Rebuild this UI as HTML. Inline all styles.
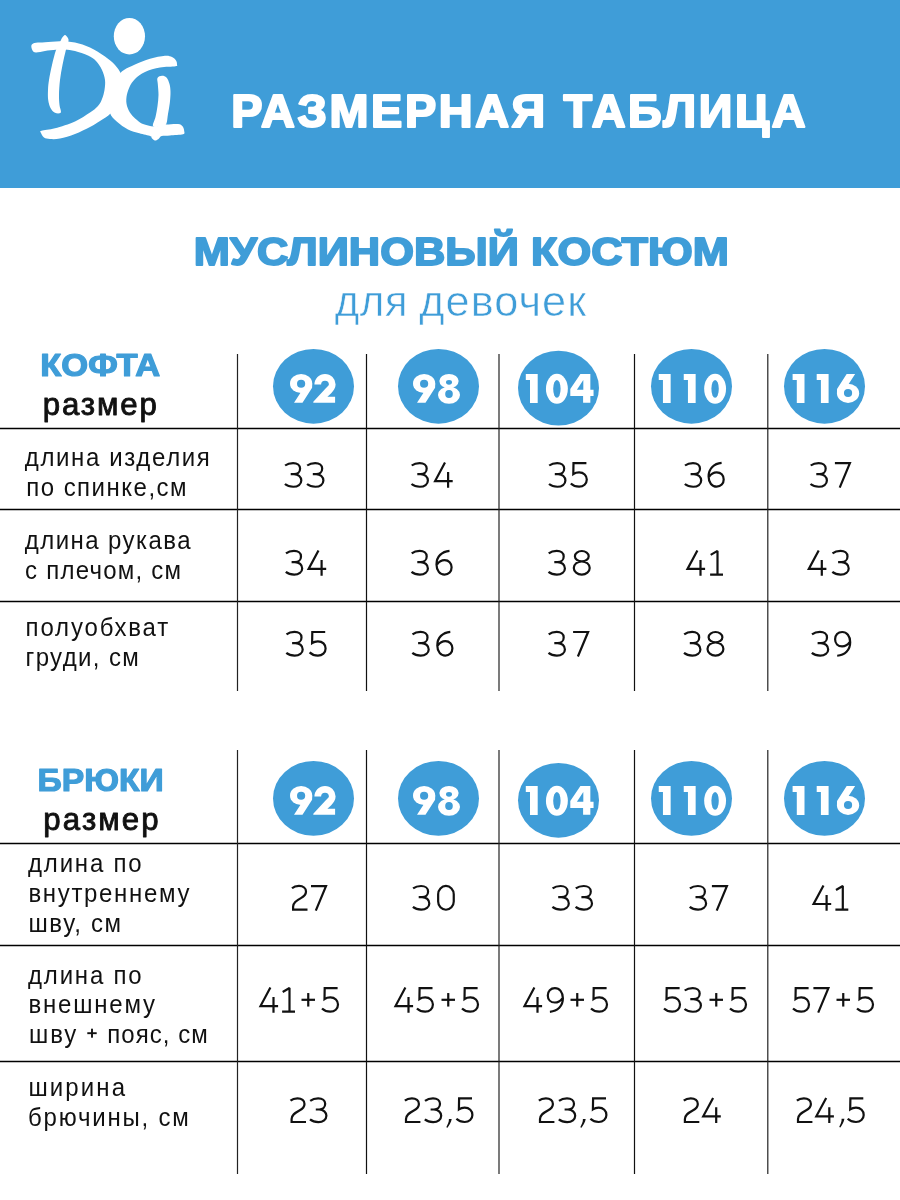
<!DOCTYPE html>
<html lang="ru"><head><meta charset="utf-8"><title>Размерная таблица</title>
<style>
html,body{margin:0;padding:0;background:#fff;}
body{width:900px;height:1200px;overflow:hidden;position:relative;font-family:"Liberation Sans",sans-serif;}
.hdr{position:absolute;left:0;top:0;width:900px;height:187.7px;background:#3f9dd8;}
svg{position:absolute;left:0;top:0;will-change:transform;}
text{font-family:"Liberation Sans",sans-serif;}
</style></head><body>
<div class="hdr"></div>
<svg width="900" height="1200" viewBox="0 0 900 1200">
<g id="logo">
<path d="M31.50,45.00 C32.08,43.72 33.75,43.25 36.00,42.80 C38.25,42.35 41.00,42.57 45.00,42.30 C49.00,42.03 55.00,41.17 60.00,41.20 C65.00,41.23 70.00,41.45 75.00,42.50 C80.00,43.55 85.00,45.17 90.00,47.50 C95.00,49.83 100.83,53.58 105.00,56.50 C109.17,59.42 112.33,62.08 115.00,65.00 C117.67,67.92 119.50,70.50 121.00,74.00 C122.50,77.50 124.17,81.67 124.00,86.00 C123.83,90.33 122.17,95.50 120.00,100.00 C117.83,104.50 114.33,109.50 111.00,113.00 C107.67,116.50 103.50,118.67 100.00,121.00 C96.50,123.33 94.17,124.83 90.00,127.00 C85.83,129.17 80.00,132.08 75.00,134.00 C70.00,135.92 64.17,137.67 60.00,138.50 C55.83,139.33 52.67,139.17 50.00,139.00 C47.33,138.83 45.50,138.50 44.00,137.50 C42.50,136.50 41.42,134.12 41.00,133.00 C40.58,131.88 39.17,131.58 41.50,130.80 C43.83,130.02 49.42,129.85 55.00,128.30 C60.58,126.75 69.17,124.13 75.00,121.50 C80.83,118.87 86.17,115.08 90.00,112.50 C93.83,109.92 96.00,108.25 98.00,106.00 C100.00,103.75 100.92,101.67 102.00,99.00 C103.08,96.33 104.00,93.17 104.50,90.00 C105.00,86.83 105.42,83.33 105.00,80.00 C104.58,76.67 103.50,73.17 102.00,70.00 C100.50,66.83 98.33,63.42 96.00,61.00 C93.67,58.58 91.50,57.17 88.00,55.50 C84.50,53.83 78.83,52.02 75.00,51.00 C71.17,49.98 68.17,49.60 65.00,49.40 C61.83,49.20 59.33,49.53 56.00,49.80 C52.67,50.07 48.33,50.55 45.00,51.00 C41.67,51.45 38.08,52.58 36.00,52.50 C33.92,52.42 33.25,51.75 32.50,50.50 C31.75,49.25 30.92,46.28 31.50,45.00Z" fill="#fff"/>
<path d="M65.00,35.00 C65.88,35.00 67.02,36.50 67.60,37.50 C68.18,38.50 68.77,39.00 68.50,41.00 C68.23,43.00 67.00,45.50 66.00,49.50 C65.00,53.50 63.50,59.92 62.50,65.00 C61.50,70.08 60.58,75.00 60.00,80.00 C59.42,85.00 59.08,90.83 59.00,95.00 C58.92,99.17 59.20,102.08 59.50,105.00 C59.80,107.92 61.55,111.20 60.80,112.50 C60.05,113.80 56.72,113.55 55.00,112.80 C53.28,112.05 51.63,110.13 50.50,108.00 C49.37,105.87 48.62,103.00 48.20,100.00 C47.78,97.00 47.87,93.33 48.00,90.00 C48.13,86.67 48.33,84.17 49.00,80.00 C49.67,75.83 50.83,70.00 52.00,65.00 C53.17,60.00 54.58,54.00 56.00,50.00 C57.42,46.00 59.45,43.08 60.50,41.00 C61.55,38.92 61.55,38.50 62.30,37.50 C63.05,36.50 64.12,35.00 65.00,35.00Z" fill="#fff"/>
<ellipse cx="129.4" cy="36.2" rx="15.6" ry="18.3" transform="rotate(0 129.4 36.2)" fill="#fff"/>
<path d="M118.00,76.00 C119.67,73.33 121.17,71.92 124.00,70.00 C126.83,68.08 130.67,66.37 135.00,64.50 C139.33,62.63 145.00,60.25 150.00,58.80 C155.00,57.35 161.33,56.10 165.00,55.80 C168.67,55.50 170.17,56.22 172.00,57.00 C173.83,57.78 175.17,59.25 176.00,60.50 C176.83,61.75 177.08,63.53 177.00,64.50 C176.92,65.47 178.33,65.78 175.50,66.30 C172.67,66.82 165.08,66.65 160.00,67.60 C154.92,68.55 149.17,70.10 145.00,72.00 C140.83,73.90 137.58,76.50 135.00,79.00 C132.42,81.50 130.92,84.00 129.50,87.00 C128.08,90.00 126.92,93.83 126.50,97.00 C126.08,100.17 126.25,103.17 127.00,106.00 C127.75,108.83 129.33,111.67 131.00,114.00 C132.67,116.33 135.00,118.33 137.00,120.00 C139.00,121.67 140.17,122.92 143.00,124.00 C145.83,125.08 150.17,126.40 154.00,126.50 C157.83,126.60 162.00,125.02 166.00,124.60 C170.00,124.18 175.25,123.72 178.00,124.00 C180.75,124.28 181.47,125.13 182.50,126.30 C183.53,127.47 184.12,129.67 184.20,131.00 C184.28,132.33 185.37,133.57 183.00,134.30 C180.63,135.03 173.55,135.12 170.00,135.40 C166.45,135.68 163.62,135.40 161.70,136.00 C159.78,136.60 159.62,138.25 158.50,139.00 C157.38,139.75 156.13,140.67 155.00,140.50 C153.87,140.33 152.45,138.72 151.70,138.00 C150.95,137.28 152.55,136.98 150.50,136.20 C148.45,135.42 143.15,134.43 139.40,133.30 C135.65,132.17 131.73,131.33 128.00,129.40 C124.27,127.47 120.00,124.43 117.00,121.70 C114.00,118.97 111.00,116.62 110.00,113.00 C109.00,109.38 110.33,104.50 111.00,100.00 C111.67,95.50 112.83,90.00 114.00,86.00 C115.17,82.00 116.33,78.67 118.00,76.00Z" fill="#fff"/>
<path d="M162.00,75.80 C163.50,75.72 165.25,76.13 166.50,77.50 C167.75,78.87 168.83,81.58 169.50,84.00 C170.17,86.42 170.45,88.83 170.50,92.00 C170.55,95.17 170.22,99.33 169.80,103.00 C169.38,106.67 168.63,110.42 168.00,114.00 C167.37,117.58 167.33,122.42 166.00,124.50 C164.67,126.58 162.17,126.25 160.00,126.50 C157.83,126.75 153.75,127.58 153.00,126.00 C152.25,124.42 154.75,120.33 155.50,117.00 C156.25,113.67 157.00,109.67 157.50,106.00 C158.00,102.33 158.45,98.67 158.50,95.00 C158.55,91.33 157.97,86.83 157.80,84.00 C157.63,81.17 156.80,79.37 157.50,78.00 C158.20,76.63 160.50,75.88 162.00,75.80Z" fill="#fff"/>
</g>
<g id="grid">
<line x1="0" y1="428.5" x2="900" y2="428.5" stroke="#000" stroke-width="1.3"/>
<line x1="0" y1="509.5" x2="900" y2="509.5" stroke="#000" stroke-width="1.3"/>
<line x1="0" y1="601.5" x2="900" y2="601.5" stroke="#000" stroke-width="1.3"/>
<line x1="0" y1="843.5" x2="900" y2="843.5" stroke="#000" stroke-width="1.3"/>
<line x1="0" y1="945.5" x2="900" y2="945.5" stroke="#000" stroke-width="1.3"/>
<line x1="0" y1="1061.5" x2="900" y2="1061.5" stroke="#000" stroke-width="1.3"/>
<line x1="237.5" y1="354" x2="237.5" y2="691" stroke="#222" stroke-width="1.2"/>
<line x1="237.5" y1="750" x2="237.5" y2="1174" stroke="#222" stroke-width="1.2"/>
<line x1="366.5" y1="354" x2="366.5" y2="691" stroke="#111" stroke-width="1.2"/>
<line x1="366.5" y1="750" x2="366.5" y2="1174" stroke="#111" stroke-width="1.2"/>
<line x1="499" y1="354" x2="499" y2="691" stroke="#222" stroke-width="1.2"/>
<line x1="499" y1="750" x2="499" y2="1174" stroke="#222" stroke-width="1.2"/>
<line x1="634.5" y1="354" x2="634.5" y2="691" stroke="#111" stroke-width="1.2"/>
<line x1="634.5" y1="750" x2="634.5" y2="1174" stroke="#111" stroke-width="1.2"/>
<line x1="767.8" y1="354" x2="767.8" y2="691" stroke="#222" stroke-width="1.2"/>
<line x1="767.8" y1="750" x2="767.8" y2="1174" stroke="#222" stroke-width="1.2"/>
</g>
<g id="circles">
<ellipse cx="313.5" cy="386.30" rx="40.5" ry="37.4" fill="#3f9dd8"/>
<ellipse cx="438.5" cy="386.30" rx="40.5" ry="37.4" fill="#3f9dd8"/>
<ellipse cx="558.5" cy="388.10" rx="40.5" ry="37.4" fill="#3f9dd8"/>
<ellipse cx="691.5" cy="386.30" rx="40.5" ry="37.4" fill="#3f9dd8"/>
<ellipse cx="824.5" cy="386.30" rx="40.5" ry="37.4" fill="#3f9dd8"/>
<ellipse cx="313.5" cy="798.40" rx="40.5" ry="37.4" fill="#3f9dd8"/>
<ellipse cx="438.5" cy="798.40" rx="40.5" ry="37.4" fill="#3f9dd8"/>
<ellipse cx="558.5" cy="800.30" rx="40.5" ry="37.4" fill="#3f9dd8"/>
<ellipse cx="691.5" cy="798.40" rx="40.5" ry="37.4" fill="#3f9dd8"/>
<ellipse cx="824.5" cy="798.40" rx="40.5" ry="37.4" fill="#3f9dd8"/>
</g>
<g id="cnum">
<ellipse cx="301.10" cy="383.50" rx="11.10" ry="9.60" fill="#ffffff"/>
<path d="M294.00,402.85 L302.50,402.85 L312.10,387.80 L312.20,383.50 L301.10,383.50 L300.50,392.70Z" fill="#ffffff"/>
<ellipse cx="301.10" cy="383.80" rx="4.10" ry="3.95" fill="#3f9dd8"/>
<path d="M314.40,384.60 A10.6,10.6 0 0 1 335.60,384.60 C335.60,388.00 333.50,391.00 331.20,393.20 L327.40,396.80 L335.10,396.80 L335.10,402.75 L313.30,402.75 L313.30,401.80 L325.80,388.20 C327.60,386.50 328.90,385.50 328.90,384.60 A3.9,3.9 0 0 0 321.10,384.60 Z" fill="#ffffff"/>
<ellipse cx="424.10" cy="383.50" rx="11.10" ry="9.60" fill="#ffffff"/>
<path d="M417.00,402.85 L425.50,402.85 L435.10,387.80 L435.20,383.50 L424.10,383.50 L423.50,392.70Z" fill="#ffffff"/>
<ellipse cx="424.10" cy="383.80" rx="4.10" ry="3.95" fill="#3f9dd8"/>
<ellipse cx="449.00" cy="381.10" rx="9.65" ry="7.20" fill="#ffffff"/>
<ellipse cx="449.00" cy="395.10" rx="11.00" ry="8.60" fill="#ffffff"/>
<ellipse cx="449.00" cy="382.35" rx="3.00" ry="2.40" fill="#3f9dd8"/>
<ellipse cx="449.00" cy="394.00" rx="3.80" ry="3.90" fill="#3f9dd8"/>
<path d="M525.80,373.95 L537.70,373.95 L537.70,402.90 L530.00,402.90 L530.00,379.95 L525.80,379.95Z" fill="#ffffff"/>
<ellipse cx="556.90" cy="388.85" rx="10.95" ry="15.00" fill="#ffffff"/>
<ellipse cx="556.90" cy="388.85" rx="3.70" ry="8.90" fill="#3f9dd8"/>
<path d="M580.40,374.00 L590.35,374.00 L590.35,389.85 L593.55,389.85 L593.55,395.90 L590.35,395.90 L590.35,402.85 L583.10,402.85 L583.10,395.90 L570.30,395.90 L570.30,389.10Z" fill="#ffffff"/>
<path d="M583.30,380.10 L583.30,389.85 L576.90,389.85Z" fill="#3f9dd8"/>
<path d="M658.75,373.95 L670.65,373.95 L670.65,402.90 L662.95,402.90 L662.95,379.95 L658.75,379.95Z" fill="#ffffff"/>
<path d="M683.75,373.95 L695.65,373.95 L695.65,402.90 L687.95,402.90 L687.95,379.95 L683.75,379.95Z" fill="#ffffff"/>
<ellipse cx="715.10" cy="388.85" rx="10.95" ry="15.00" fill="#ffffff"/>
<ellipse cx="715.10" cy="388.85" rx="3.70" ry="8.90" fill="#3f9dd8"/>
<path d="M792.60,373.95 L804.50,373.95 L804.50,402.90 L796.80,402.90 L796.80,379.95 L792.60,379.95Z" fill="#ffffff"/>
<path d="M816.70,373.95 L828.60,373.95 L828.60,402.90 L820.90,402.90 L820.90,379.95 L816.70,379.95Z" fill="#ffffff"/>
<ellipse cx="848.05" cy="393.30" rx="11.10" ry="9.60" fill="#ffffff"/>
<path d="M855.15,373.95 L846.65,373.95 L837.05,389.00 L836.95,393.30 L848.05,393.30 L848.65,384.10Z" fill="#ffffff"/>
<ellipse cx="848.05" cy="393.00" rx="4.10" ry="3.95" fill="#3f9dd8"/>
<ellipse cx="301.10" cy="795.50" rx="11.10" ry="9.60" fill="#ffffff"/>
<path d="M294.00,814.85 L302.50,814.85 L312.10,799.80 L312.20,795.50 L301.10,795.50 L300.50,804.70Z" fill="#ffffff"/>
<ellipse cx="301.10" cy="795.80" rx="4.10" ry="3.95" fill="#3f9dd8"/>
<path d="M314.40,796.60 A10.6,10.6 0 0 1 335.60,796.60 C335.60,800.00 333.50,803.00 331.20,805.20 L327.40,808.80 L335.10,808.80 L335.10,814.75 L313.30,814.75 L313.30,813.80 L325.80,800.20 C327.60,798.50 328.90,797.50 328.90,796.60 A3.9,3.9 0 0 0 321.10,796.60 Z" fill="#ffffff"/>
<ellipse cx="424.10" cy="795.50" rx="11.10" ry="9.60" fill="#ffffff"/>
<path d="M417.00,814.85 L425.50,814.85 L435.10,799.80 L435.20,795.50 L424.10,795.50 L423.50,804.70Z" fill="#ffffff"/>
<ellipse cx="424.10" cy="795.80" rx="4.10" ry="3.95" fill="#3f9dd8"/>
<ellipse cx="449.00" cy="793.10" rx="9.65" ry="7.20" fill="#ffffff"/>
<ellipse cx="449.00" cy="807.10" rx="11.00" ry="8.60" fill="#ffffff"/>
<ellipse cx="449.00" cy="794.35" rx="3.00" ry="2.40" fill="#3f9dd8"/>
<ellipse cx="449.00" cy="806.00" rx="3.80" ry="3.90" fill="#3f9dd8"/>
<path d="M525.80,785.95 L537.70,785.95 L537.70,814.90 L530.00,814.90 L530.00,791.95 L525.80,791.95Z" fill="#ffffff"/>
<ellipse cx="556.90" cy="800.85" rx="10.95" ry="15.00" fill="#ffffff"/>
<ellipse cx="556.90" cy="800.85" rx="3.70" ry="8.90" fill="#3f9dd8"/>
<path d="M580.40,786.00 L590.35,786.00 L590.35,801.85 L593.55,801.85 L593.55,807.90 L590.35,807.90 L590.35,814.85 L583.10,814.85 L583.10,807.90 L570.30,807.90 L570.30,801.10Z" fill="#ffffff"/>
<path d="M583.30,792.10 L583.30,801.85 L576.90,801.85Z" fill="#3f9dd8"/>
<path d="M658.75,785.95 L670.65,785.95 L670.65,814.90 L662.95,814.90 L662.95,791.95 L658.75,791.95Z" fill="#ffffff"/>
<path d="M683.75,785.95 L695.65,785.95 L695.65,814.90 L687.95,814.90 L687.95,791.95 L683.75,791.95Z" fill="#ffffff"/>
<ellipse cx="715.10" cy="800.85" rx="10.95" ry="15.00" fill="#ffffff"/>
<ellipse cx="715.10" cy="800.85" rx="3.70" ry="8.90" fill="#3f9dd8"/>
<path d="M792.60,785.95 L804.50,785.95 L804.50,814.90 L796.80,814.90 L796.80,791.95 L792.60,791.95Z" fill="#ffffff"/>
<path d="M816.70,785.95 L828.60,785.95 L828.60,814.90 L820.90,814.90 L820.90,791.95 L816.70,791.95Z" fill="#ffffff"/>
<ellipse cx="848.05" cy="805.30" rx="11.10" ry="9.60" fill="#ffffff"/>
<path d="M855.15,785.95 L846.65,785.95 L837.05,801.00 L836.95,805.30 L848.05,805.30 L848.65,796.10Z" fill="#ffffff"/>
<ellipse cx="848.05" cy="805.00" rx="4.10" ry="3.95" fill="#3f9dd8"/>
</g>
<g id="plus">
<rect x="87.30" y="1032.25" width="9.4" height="1.9" fill="#111111"/>
<rect x="91.05" y="1028.70" width="1.9" height="9.0" fill="#111111"/>
<rect x="301.50" y="998.70" width="13.50" height="2.2" fill="#111111"/>
<rect x="307.15" y="993.05" width="2.2" height="13.50" fill="#111111"/>
<rect x="441.50" y="998.70" width="13.50" height="2.2" fill="#111111"/>
<rect x="447.15" y="993.05" width="2.2" height="13.50" fill="#111111"/>
<rect x="570.50" y="998.70" width="13.50" height="2.2" fill="#111111"/>
<rect x="576.15" y="993.05" width="2.2" height="13.50" fill="#111111"/>
<rect x="709.50" y="998.70" width="13.50" height="2.2" fill="#111111"/>
<rect x="715.15" y="993.05" width="2.2" height="13.50" fill="#111111"/>
<rect x="836.50" y="998.70" width="13.50" height="2.2" fill="#111111"/>
<rect x="842.15" y="993.05" width="2.2" height="13.50" fill="#111111"/>
</g>
<g id="nums">
<path d="M0.7,3.5 C2.8,1.9 5.6,1.05 8.7,1.05 C12.9,1.05 15.7,3.3 15.7,6.5 C15.7,9.9 13.2,12.2 9.6,12.2 L6.3,12.2 M9.6,12.2 C13.9,12.2 16.9,14.9 16.9,18.5 C16.9,22.2 13.5,24.75 8.9,24.75 C5.6,24.75 2.6,23.8 0.5,22.0" transform="translate(284.40,462.00) scale(1,1.0000)" fill="none" stroke="#111111" stroke-width="2.2" stroke-linejoin="miter" stroke-miterlimit="6"/>
<path d="M0.7,3.5 C2.8,1.9 5.6,1.05 8.7,1.05 C12.9,1.05 15.7,3.3 15.7,6.5 C15.7,9.9 13.2,12.2 9.6,12.2 L6.3,12.2 M9.6,12.2 C13.9,12.2 16.9,14.9 16.9,18.5 C16.9,22.2 13.5,24.75 8.9,24.75 C5.6,24.75 2.6,23.8 0.5,22.0" transform="translate(306.50,462.00) scale(1,1.0000)" fill="none" stroke="#111111" stroke-width="2.2" stroke-linejoin="miter" stroke-miterlimit="6"/>
<path d="M0.7,3.5 C2.8,1.9 5.6,1.05 8.7,1.05 C12.9,1.05 15.7,3.3 15.7,6.5 C15.7,9.9 13.2,12.2 9.6,12.2 L6.3,12.2 M9.6,12.2 C13.9,12.2 16.9,14.9 16.9,18.5 C16.9,22.2 13.5,24.75 8.9,24.75 C5.6,24.75 2.6,23.8 0.5,22.0" transform="translate(411.00,462.00) scale(1,1.0000)" fill="none" stroke="#111111" stroke-width="2.2" stroke-linejoin="miter" stroke-miterlimit="6"/>
<path d="M10.9,0.6 L1.0,19.05 L18.6,19.05 M14.0,10.0 L14.0,25.8" transform="translate(434.10,462.00) scale(1,1.0000)" fill="none" stroke="#111111" stroke-width="2.2" stroke-linejoin="miter" stroke-miterlimit="6"/>
<path d="M0.7,3.5 C2.8,1.9 5.6,1.05 8.7,1.05 C12.9,1.05 15.7,3.3 15.7,6.5 C15.7,9.9 13.2,12.2 9.6,12.2 L6.3,12.2 M9.6,12.2 C13.9,12.2 16.9,14.9 16.9,18.5 C16.9,22.2 13.5,24.75 8.9,24.75 C5.6,24.75 2.6,23.8 0.5,22.0" transform="translate(548.50,462.00) scale(1,1.0000)" fill="none" stroke="#111111" stroke-width="2.2" stroke-linejoin="miter" stroke-miterlimit="6"/>
<path d="M16.1,1.1 L3.2,1.1 L3.0,12.1 C4.7,10.9 6.7,10.4 8.8,10.4 C13.5,10.4 16.5,13.6 16.5,17.6 C16.5,21.7 13.2,24.7 8.8,24.7 C5.5,24.7 2.6,23.5 0.5,21.5" transform="translate(570.30,462.00) scale(1,1.0000)" fill="none" stroke="#111111" stroke-width="2.2" stroke-linejoin="miter" stroke-miterlimit="6"/>
<path d="M0.7,3.5 C2.8,1.9 5.6,1.05 8.7,1.05 C12.9,1.05 15.7,3.3 15.7,6.5 C15.7,9.9 13.2,12.2 9.6,12.2 L6.3,12.2 M9.6,12.2 C13.9,12.2 16.9,14.9 16.9,18.5 C16.9,22.2 13.5,24.75 8.9,24.75 C5.6,24.75 2.6,23.8 0.5,22.0" transform="translate(684.30,462.00) scale(1,1.0000)" fill="none" stroke="#111111" stroke-width="2.2" stroke-linejoin="miter" stroke-miterlimit="6"/>
<path d="M14.1,0.95 C6.5,1.6 1.1,6.5 1.1,14.5 C1.1,20.8 4.6,24.7 9.1,24.7 C13.4,24.7 16.2,21.5 16.2,17.4 C16.2,13.3 13.4,10.3 9.2,10.3 C6.2,10.3 3.5,11.9 1.7,14.5" transform="translate(707.50,462.00) scale(1,1.0000)" fill="none" stroke="#111111" stroke-width="2.2" stroke-linejoin="miter" stroke-miterlimit="6"/>
<path d="M0.7,3.5 C2.8,1.9 5.6,1.05 8.7,1.05 C12.9,1.05 15.7,3.3 15.7,6.5 C15.7,9.9 13.2,12.2 9.6,12.2 L6.3,12.2 M9.6,12.2 C13.9,12.2 16.9,14.9 16.9,18.5 C16.9,22.2 13.5,24.75 8.9,24.75 C5.6,24.75 2.6,23.8 0.5,22.0" transform="translate(810.00,462.00) scale(1,1.0000)" fill="none" stroke="#111111" stroke-width="2.2" stroke-linejoin="miter" stroke-miterlimit="6"/>
<path d="M0,1.1 L15.0,1.1 L4.8,25.6" transform="translate(834.90,462.00) scale(1,1.0000)" fill="none" stroke="#111111" stroke-width="2.2" stroke-linejoin="miter" stroke-miterlimit="6"/>
<path d="M0.7,3.5 C2.8,1.9 5.6,1.05 8.7,1.05 C12.9,1.05 15.7,3.3 15.7,6.5 C15.7,9.9 13.2,12.2 9.6,12.2 L6.3,12.2 M9.6,12.2 C13.9,12.2 16.9,14.9 16.9,18.5 C16.9,22.2 13.5,24.75 8.9,24.75 C5.6,24.75 2.6,23.8 0.5,22.0" transform="translate(285.30,549.90) scale(1,1.0000)" fill="none" stroke="#111111" stroke-width="2.2" stroke-linejoin="miter" stroke-miterlimit="6"/>
<path d="M10.9,0.6 L1.0,19.05 L18.6,19.05 M14.0,10.0 L14.0,25.8" transform="translate(307.60,549.90) scale(1,1.0000)" fill="none" stroke="#111111" stroke-width="2.2" stroke-linejoin="miter" stroke-miterlimit="6"/>
<path d="M0.7,3.5 C2.8,1.9 5.6,1.05 8.7,1.05 C12.9,1.05 15.7,3.3 15.7,6.5 C15.7,9.9 13.2,12.2 9.6,12.2 L6.3,12.2 M9.6,12.2 C13.9,12.2 16.9,14.9 16.9,18.5 C16.9,22.2 13.5,24.75 8.9,24.75 C5.6,24.75 2.6,23.8 0.5,22.0" transform="translate(411.00,549.90) scale(1,1.0000)" fill="none" stroke="#111111" stroke-width="2.2" stroke-linejoin="miter" stroke-miterlimit="6"/>
<path d="M14.1,0.95 C6.5,1.6 1.1,6.5 1.1,14.5 C1.1,20.8 4.6,24.7 9.1,24.7 C13.4,24.7 16.2,21.5 16.2,17.4 C16.2,13.3 13.4,10.3 9.2,10.3 C6.2,10.3 3.5,11.9 1.7,14.5" transform="translate(435.40,549.90) scale(1,1.0000)" fill="none" stroke="#111111" stroke-width="2.2" stroke-linejoin="miter" stroke-miterlimit="6"/>
<path d="M0.7,3.5 C2.8,1.9 5.6,1.05 8.7,1.05 C12.9,1.05 15.7,3.3 15.7,6.5 C15.7,9.9 13.2,12.2 9.6,12.2 L6.3,12.2 M9.6,12.2 C13.9,12.2 16.9,14.9 16.9,18.5 C16.9,22.2 13.5,24.75 8.9,24.75 C5.6,24.75 2.6,23.8 0.5,22.0" transform="translate(548.00,549.90) scale(1,1.0000)" fill="none" stroke="#111111" stroke-width="2.2" stroke-linejoin="miter" stroke-miterlimit="6"/>
<path d="M9.1,1.1 A6.9,5.15 0 1 1 9.1,11.4 A6.9,5.15 0 1 1 9.1,1.1 Z M9.05,11.4 A7.95,6.65 0 1 1 9.05,24.7 A7.95,6.65 0 1 1 9.05,11.4 Z" transform="translate(572.70,549.90) scale(1,1.0000)" fill="none" stroke="#111111" stroke-width="2.2" stroke-linejoin="miter" stroke-miterlimit="6"/>
<path d="M10.9,0.6 L1.0,19.05 L18.6,19.05 M14.0,10.0 L14.0,25.8" transform="translate(686.50,549.90) scale(1,1.0000)" fill="none" stroke="#111111" stroke-width="2.2" stroke-linejoin="miter" stroke-miterlimit="6"/>
<path d="M0.6,5.0 L7.4,1.0 L7.4,24.7 M0,24.7 L12.9,24.7" transform="translate(710.10,549.90) scale(1,1.0000)" fill="none" stroke="#111111" stroke-width="2.2" stroke-linejoin="miter" stroke-miterlimit="1.5"/>
<path d="M10.9,0.6 L1.0,19.05 L18.6,19.05 M14.0,10.0 L14.0,25.8" transform="translate(807.80,549.90) scale(1,1.0000)" fill="none" stroke="#111111" stroke-width="2.2" stroke-linejoin="miter" stroke-miterlimit="6"/>
<path d="M0.7,3.5 C2.8,1.9 5.6,1.05 8.7,1.05 C12.9,1.05 15.7,3.3 15.7,6.5 C15.7,9.9 13.2,12.2 9.6,12.2 L6.3,12.2 M9.6,12.2 C13.9,12.2 16.9,14.9 16.9,18.5 C16.9,22.2 13.5,24.75 8.9,24.75 C5.6,24.75 2.6,23.8 0.5,22.0" transform="translate(831.80,549.90) scale(1,1.0000)" fill="none" stroke="#111111" stroke-width="2.2" stroke-linejoin="miter" stroke-miterlimit="6"/>
<path d="M0.7,3.5 C2.8,1.9 5.6,1.05 8.7,1.05 C12.9,1.05 15.7,3.3 15.7,6.5 C15.7,9.9 13.2,12.2 9.6,12.2 L6.3,12.2 M9.6,12.2 C13.9,12.2 16.9,14.9 16.9,18.5 C16.9,22.2 13.5,24.75 8.9,24.75 C5.6,24.75 2.6,23.8 0.5,22.0" transform="translate(285.80,630.90) scale(1,1.0000)" fill="none" stroke="#111111" stroke-width="2.2" stroke-linejoin="miter" stroke-miterlimit="6"/>
<path d="M16.1,1.1 L3.2,1.1 L3.0,12.1 C4.7,10.9 6.7,10.4 8.8,10.4 C13.5,10.4 16.5,13.6 16.5,17.6 C16.5,21.7 13.2,24.7 8.8,24.7 C5.5,24.7 2.6,23.5 0.5,21.5" transform="translate(309.10,630.90) scale(1,1.0000)" fill="none" stroke="#111111" stroke-width="2.2" stroke-linejoin="miter" stroke-miterlimit="6"/>
<path d="M0.7,3.5 C2.8,1.9 5.6,1.05 8.7,1.05 C12.9,1.05 15.7,3.3 15.7,6.5 C15.7,9.9 13.2,12.2 9.6,12.2 L6.3,12.2 M9.6,12.2 C13.9,12.2 16.9,14.9 16.9,18.5 C16.9,22.2 13.5,24.75 8.9,24.75 C5.6,24.75 2.6,23.8 0.5,22.0" transform="translate(411.80,630.90) scale(1,1.0000)" fill="none" stroke="#111111" stroke-width="2.2" stroke-linejoin="miter" stroke-miterlimit="6"/>
<path d="M14.1,0.95 C6.5,1.6 1.1,6.5 1.1,14.5 C1.1,20.8 4.6,24.7 9.1,24.7 C13.4,24.7 16.2,21.5 16.2,17.4 C16.2,13.3 13.4,10.3 9.2,10.3 C6.2,10.3 3.5,11.9 1.7,14.5" transform="translate(436.20,630.90) scale(1,1.0000)" fill="none" stroke="#111111" stroke-width="2.2" stroke-linejoin="miter" stroke-miterlimit="6"/>
<path d="M0.7,3.5 C2.8,1.9 5.6,1.05 8.7,1.05 C12.9,1.05 15.7,3.3 15.7,6.5 C15.7,9.9 13.2,12.2 9.6,12.2 L6.3,12.2 M9.6,12.2 C13.9,12.2 16.9,14.9 16.9,18.5 C16.9,22.2 13.5,24.75 8.9,24.75 C5.6,24.75 2.6,23.8 0.5,22.0" transform="translate(548.00,630.90) scale(1,1.0000)" fill="none" stroke="#111111" stroke-width="2.2" stroke-linejoin="miter" stroke-miterlimit="6"/>
<path d="M0,1.1 L15.0,1.1 L4.8,25.6" transform="translate(573.10,630.90) scale(1,1.0000)" fill="none" stroke="#111111" stroke-width="2.2" stroke-linejoin="miter" stroke-miterlimit="6"/>
<path d="M0.7,3.5 C2.8,1.9 5.6,1.05 8.7,1.05 C12.9,1.05 15.7,3.3 15.7,6.5 C15.7,9.9 13.2,12.2 9.6,12.2 L6.3,12.2 M9.6,12.2 C13.9,12.2 16.9,14.9 16.9,18.5 C16.9,22.2 13.5,24.75 8.9,24.75 C5.6,24.75 2.6,23.8 0.5,22.0" transform="translate(683.50,630.90) scale(1,1.0000)" fill="none" stroke="#111111" stroke-width="2.2" stroke-linejoin="miter" stroke-miterlimit="6"/>
<path d="M9.1,1.1 A6.9,5.15 0 1 1 9.1,11.4 A6.9,5.15 0 1 1 9.1,1.1 Z M9.05,11.4 A7.95,6.65 0 1 1 9.05,24.7 A7.95,6.65 0 1 1 9.05,11.4 Z" transform="translate(706.40,630.90) scale(1,1.0000)" fill="none" stroke="#111111" stroke-width="2.2" stroke-linejoin="miter" stroke-miterlimit="6"/>
<path d="M0.7,3.5 C2.8,1.9 5.6,1.05 8.7,1.05 C12.9,1.05 15.7,3.3 15.7,6.5 C15.7,9.9 13.2,12.2 9.6,12.2 L6.3,12.2 M9.6,12.2 C13.9,12.2 16.9,14.9 16.9,18.5 C16.9,22.2 13.5,24.75 8.9,24.75 C5.6,24.75 2.6,23.8 0.5,22.0" transform="translate(811.30,630.90) scale(1,1.0000)" fill="none" stroke="#111111" stroke-width="2.2" stroke-linejoin="miter" stroke-miterlimit="6"/>
<path d="M3.10,24.85 C10.70,24.20 16.10,19.30 16.10,11.30 C16.10,5.00 12.60,1.10 8.10,1.10 C3.80,1.10 1.00,4.30 1.00,8.40 C1.00,12.50 3.80,15.50 8.00,15.50 C11.00,15.50 13.70,13.90 15.50,11.30" transform="translate(834.10,630.90) scale(1,1.0000)" fill="none" stroke="#111111" stroke-width="2.2" stroke-linejoin="miter" stroke-miterlimit="6"/>
<path d="M0.6,3.3 C2.4,1.7 5.0,1.0 7.6,1.0 C11.9,1.0 14.6,3.4 14.6,6.6 C14.6,9.8 12.5,11.6 9.5,13.2 C4.7,15.8 1.7,17.8 1.7,21.8 L1.7,24.7 L16.1,24.7" transform="translate(291.40,884.95) scale(1,1.0000)" fill="none" stroke="#111111" stroke-width="2.2" stroke-linejoin="miter" stroke-miterlimit="6"/>
<path d="M0,1.1 L15.0,1.1 L4.8,25.6" transform="translate(311.00,884.95) scale(1,1.0000)" fill="none" stroke="#111111" stroke-width="2.2" stroke-linejoin="miter" stroke-miterlimit="6"/>
<path d="M0.7,3.5 C2.8,1.9 5.6,1.05 8.7,1.05 C12.9,1.05 15.7,3.3 15.7,6.5 C15.7,9.9 13.2,12.2 9.6,12.2 L6.3,12.2 M9.6,12.2 C13.9,12.2 16.9,14.9 16.9,18.5 C16.9,22.2 13.5,24.75 8.9,24.75 C5.6,24.75 2.6,23.8 0.5,22.0" transform="translate(412.40,884.95) scale(1,1.0000)" fill="none" stroke="#111111" stroke-width="2.2" stroke-linejoin="miter" stroke-miterlimit="6"/>
<path d="M1.15,9.3 A7.8,8.3 0 0 1 16.75,9.3 L16.75,16.5 A7.8,8.3 0 0 1 1.15,16.5 Z" transform="translate(437.00,884.95) scale(1,1.0000)" fill="none" stroke="#111111" stroke-width="2.2" stroke-linejoin="miter" stroke-miterlimit="6"/>
<path d="M0.7,3.5 C2.8,1.9 5.6,1.05 8.7,1.05 C12.9,1.05 15.7,3.3 15.7,6.5 C15.7,9.9 13.2,12.2 9.6,12.2 L6.3,12.2 M9.6,12.2 C13.9,12.2 16.9,14.9 16.9,18.5 C16.9,22.2 13.5,24.75 8.9,24.75 C5.6,24.75 2.6,23.8 0.5,22.0" transform="translate(551.90,884.95) scale(1,1.0000)" fill="none" stroke="#111111" stroke-width="2.2" stroke-linejoin="miter" stroke-miterlimit="6"/>
<path d="M0.7,3.5 C2.8,1.9 5.6,1.05 8.7,1.05 C12.9,1.05 15.7,3.3 15.7,6.5 C15.7,9.9 13.2,12.2 9.6,12.2 L6.3,12.2 M9.6,12.2 C13.9,12.2 16.9,14.9 16.9,18.5 C16.9,22.2 13.5,24.75 8.9,24.75 C5.6,24.75 2.6,23.8 0.5,22.0" transform="translate(575.10,884.95) scale(1,1.0000)" fill="none" stroke="#111111" stroke-width="2.2" stroke-linejoin="miter" stroke-miterlimit="6"/>
<path d="M0.7,3.5 C2.8,1.9 5.6,1.05 8.7,1.05 C12.9,1.05 15.7,3.3 15.7,6.5 C15.7,9.9 13.2,12.2 9.6,12.2 L6.3,12.2 M9.6,12.2 C13.9,12.2 16.9,14.9 16.9,18.5 C16.9,22.2 13.5,24.75 8.9,24.75 C5.6,24.75 2.6,23.8 0.5,22.0" transform="translate(689.20,884.95) scale(1,1.0000)" fill="none" stroke="#111111" stroke-width="2.2" stroke-linejoin="miter" stroke-miterlimit="6"/>
<path d="M0,1.1 L15.0,1.1 L4.8,25.6" transform="translate(711.90,884.95) scale(1,1.0000)" fill="none" stroke="#111111" stroke-width="2.2" stroke-linejoin="miter" stroke-miterlimit="6"/>
<path d="M10.9,0.6 L1.0,19.05 L18.6,19.05 M14.0,10.0 L14.0,25.8" transform="translate(812.60,884.95) scale(1,1.0000)" fill="none" stroke="#111111" stroke-width="2.2" stroke-linejoin="miter" stroke-miterlimit="6"/>
<path d="M0.6,5.0 L7.4,1.0 L7.4,24.7 M0,24.7 L12.9,24.7" transform="translate(835.40,884.95) scale(1,1.0000)" fill="none" stroke="#111111" stroke-width="2.2" stroke-linejoin="miter" stroke-miterlimit="1.5"/>
<path d="M0.6,3.3 C2.4,1.7 5.0,1.0 7.6,1.0 C11.9,1.0 14.6,3.4 14.6,6.6 C14.6,9.8 12.5,11.6 9.5,13.2 C4.7,15.8 1.7,17.8 1.7,21.8 L1.7,24.7 L16.1,24.7" transform="translate(289.90,1097.30) scale(1,1.0000)" fill="none" stroke="#111111" stroke-width="2.2" stroke-linejoin="miter" stroke-miterlimit="6"/>
<path d="M0.7,3.5 C2.8,1.9 5.6,1.05 8.7,1.05 C12.9,1.05 15.7,3.3 15.7,6.5 C15.7,9.9 13.2,12.2 9.6,12.2 L6.3,12.2 M9.6,12.2 C13.9,12.2 16.9,14.9 16.9,18.5 C16.9,22.2 13.5,24.75 8.9,24.75 C5.6,24.75 2.6,23.8 0.5,22.0" transform="translate(309.50,1097.30) scale(1,1.0000)" fill="none" stroke="#111111" stroke-width="2.2" stroke-linejoin="miter" stroke-miterlimit="6"/>
<path d="M0.6,3.3 C2.4,1.7 5.0,1.0 7.6,1.0 C11.9,1.0 14.6,3.4 14.6,6.6 C14.6,9.8 12.5,11.6 9.5,13.2 C4.7,15.8 1.7,17.8 1.7,21.8 L1.7,24.7 L16.1,24.7" transform="translate(683.20,1097.30) scale(1,1.0000)" fill="none" stroke="#111111" stroke-width="2.2" stroke-linejoin="miter" stroke-miterlimit="6"/>
<path d="M10.9,0.6 L1.0,19.05 L18.6,19.05 M14.0,10.0 L14.0,25.8" transform="translate(702.20,1097.30) scale(1,1.0000)" fill="none" stroke="#111111" stroke-width="2.2" stroke-linejoin="miter" stroke-miterlimit="6"/>
<path d="M10.9,0.6 L1.0,19.05 L18.6,19.05 M14.0,10.0 L14.0,25.8" transform="translate(259.50,987.00) scale(1,1.0000)" fill="none" stroke="#111111" stroke-width="2.2" stroke-linejoin="miter" stroke-miterlimit="6"/>
<path d="M0.6,5.0 L7.4,1.0 L7.4,24.7 M0,24.7 L12.9,24.7" transform="translate(282.10,987.00) scale(1,1.0000)" fill="none" stroke="#111111" stroke-width="2.2" stroke-linejoin="miter" stroke-miterlimit="1.5"/>
<path d="M16.1,1.1 L3.2,1.1 L3.0,12.1 C4.7,10.9 6.7,10.4 8.8,10.4 C13.5,10.4 16.5,13.6 16.5,17.6 C16.5,21.7 13.2,24.7 8.8,24.7 C5.5,24.7 2.6,23.5 0.5,21.5" transform="translate(321.50,987.00) scale(1,1.0000)" fill="none" stroke="#111111" stroke-width="2.2" stroke-linejoin="miter" stroke-miterlimit="6"/>
<path d="M10.9,0.6 L1.0,19.05 L18.6,19.05 M14.0,10.0 L14.0,25.8" transform="translate(394.50,987.00) scale(1,1.0000)" fill="none" stroke="#111111" stroke-width="2.2" stroke-linejoin="miter" stroke-miterlimit="6"/>
<path d="M16.1,1.1 L3.2,1.1 L3.0,12.1 C4.7,10.9 6.7,10.4 8.8,10.4 C13.5,10.4 16.5,13.6 16.5,17.6 C16.5,21.7 13.2,24.7 8.8,24.7 C5.5,24.7 2.6,23.5 0.5,21.5" transform="translate(416.40,987.00) scale(1,1.0000)" fill="none" stroke="#111111" stroke-width="2.2" stroke-linejoin="miter" stroke-miterlimit="6"/>
<path d="M16.1,1.1 L3.2,1.1 L3.0,12.1 C4.7,10.9 6.7,10.4 8.8,10.4 C13.5,10.4 16.5,13.6 16.5,17.6 C16.5,21.7 13.2,24.7 8.8,24.7 C5.5,24.7 2.6,23.5 0.5,21.5" transform="translate(461.50,987.00) scale(1,1.0000)" fill="none" stroke="#111111" stroke-width="2.2" stroke-linejoin="miter" stroke-miterlimit="6"/>
<path d="M10.9,0.6 L1.0,19.05 L18.6,19.05 M14.0,10.0 L14.0,25.8" transform="translate(523.50,987.00) scale(1,1.0000)" fill="none" stroke="#111111" stroke-width="2.2" stroke-linejoin="miter" stroke-miterlimit="6"/>
<path d="M3.10,24.85 C10.70,24.20 16.10,19.30 16.10,11.30 C16.10,5.00 12.60,1.10 8.10,1.10 C3.80,1.10 1.00,4.30 1.00,8.40 C1.00,12.50 3.80,15.50 8.00,15.50 C11.00,15.50 13.70,13.90 15.50,11.30" transform="translate(546.80,987.00) scale(1,1.0000)" fill="none" stroke="#111111" stroke-width="2.2" stroke-linejoin="miter" stroke-miterlimit="6"/>
<path d="M16.1,1.1 L3.2,1.1 L3.0,12.1 C4.7,10.9 6.7,10.4 8.8,10.4 C13.5,10.4 16.5,13.6 16.5,17.6 C16.5,21.7 13.2,24.7 8.8,24.7 C5.5,24.7 2.6,23.5 0.5,21.5" transform="translate(590.50,987.00) scale(1,1.0000)" fill="none" stroke="#111111" stroke-width="2.2" stroke-linejoin="miter" stroke-miterlimit="6"/>
<path d="M16.1,1.1 L3.2,1.1 L3.0,12.1 C4.7,10.9 6.7,10.4 8.8,10.4 C13.5,10.4 16.5,13.6 16.5,17.6 C16.5,21.7 13.2,24.7 8.8,24.7 C5.5,24.7 2.6,23.5 0.5,21.5" transform="translate(663.50,987.00) scale(1,1.0000)" fill="none" stroke="#111111" stroke-width="2.2" stroke-linejoin="miter" stroke-miterlimit="6"/>
<path d="M0.7,3.5 C2.8,1.9 5.6,1.05 8.7,1.05 C12.9,1.05 15.7,3.3 15.7,6.5 C15.7,9.9 13.2,12.2 9.6,12.2 L6.3,12.2 M9.6,12.2 C13.9,12.2 16.9,14.9 16.9,18.5 C16.9,22.2 13.5,24.75 8.9,24.75 C5.6,24.75 2.6,23.8 0.5,22.0" transform="translate(684.00,987.00) scale(1,1.0000)" fill="none" stroke="#111111" stroke-width="2.2" stroke-linejoin="miter" stroke-miterlimit="6"/>
<path d="M16.1,1.1 L3.2,1.1 L3.0,12.1 C4.7,10.9 6.7,10.4 8.8,10.4 C13.5,10.4 16.5,13.6 16.5,17.6 C16.5,21.7 13.2,24.7 8.8,24.7 C5.5,24.7 2.6,23.5 0.5,21.5" transform="translate(729.50,987.00) scale(1,1.0000)" fill="none" stroke="#111111" stroke-width="2.2" stroke-linejoin="miter" stroke-miterlimit="6"/>
<path d="M16.1,1.1 L3.2,1.1 L3.0,12.1 C4.7,10.9 6.7,10.4 8.8,10.4 C13.5,10.4 16.5,13.6 16.5,17.6 C16.5,21.7 13.2,24.7 8.8,24.7 C5.5,24.7 2.6,23.5 0.5,21.5" transform="translate(792.50,987.00) scale(1,1.0000)" fill="none" stroke="#111111" stroke-width="2.2" stroke-linejoin="miter" stroke-miterlimit="6"/>
<path d="M0,1.1 L15.0,1.1 L4.8,25.6" transform="translate(813.40,987.00) scale(1,1.0000)" fill="none" stroke="#111111" stroke-width="2.2" stroke-linejoin="miter" stroke-miterlimit="6"/>
<path d="M16.1,1.1 L3.2,1.1 L3.0,12.1 C4.7,10.9 6.7,10.4 8.8,10.4 C13.5,10.4 16.5,13.6 16.5,17.6 C16.5,21.7 13.2,24.7 8.8,24.7 C5.5,24.7 2.6,23.5 0.5,21.5" transform="translate(856.50,987.00) scale(1,1.0000)" fill="none" stroke="#111111" stroke-width="2.2" stroke-linejoin="miter" stroke-miterlimit="6"/>
<path d="M0.6,3.3 C2.4,1.7 5.0,1.0 7.6,1.0 C11.9,1.0 14.6,3.4 14.6,6.6 C14.6,9.8 12.5,11.6 9.5,13.2 C4.7,15.8 1.7,17.8 1.7,21.8 L1.7,24.7 L16.1,24.7" transform="translate(404.30,1097.30) scale(1,1.0000)" fill="none" stroke="#111111" stroke-width="2.2" stroke-linejoin="miter" stroke-miterlimit="6"/>
<path d="M0.7,3.5 C2.8,1.9 5.6,1.05 8.7,1.05 C12.9,1.05 15.7,3.3 15.7,6.5 C15.7,9.9 13.2,12.2 9.6,12.2 L6.3,12.2 M9.6,12.2 C13.9,12.2 16.9,14.9 16.9,18.5 C16.9,22.2 13.5,24.75 8.9,24.75 C5.6,24.75 2.6,23.8 0.5,22.0" transform="translate(424.30,1097.30) scale(1,1.0000)" fill="none" stroke="#111111" stroke-width="2.2" stroke-linejoin="miter" stroke-miterlimit="6"/>
<path d="M16.1,1.1 L3.2,1.1 L3.0,12.1 C4.7,10.9 6.7,10.4 8.8,10.4 C13.5,10.4 16.5,13.6 16.5,17.6 C16.5,21.7 13.2,24.7 8.8,24.7 C5.5,24.7 2.6,23.5 0.5,21.5" transform="translate(455.90,1097.30) scale(1,1.0000)" fill="none" stroke="#111111" stroke-width="2.2" stroke-linejoin="miter" stroke-miterlimit="6"/>
<path d="M448.90,1118.90 L451.70,1118.90 C451.50,1121.90 448.80,1125.50 447.50,1127.70 L446.30,1127.20 C447.10,1125.00 449.30,1121.90 448.90,1118.90 Z" fill="#111111"/>
<path d="M0.6,3.3 C2.4,1.7 5.0,1.0 7.6,1.0 C11.9,1.0 14.6,3.4 14.6,6.6 C14.6,9.8 12.5,11.6 9.5,13.2 C4.7,15.8 1.7,17.8 1.7,21.8 L1.7,24.7 L16.1,24.7" transform="translate(538.30,1097.30) scale(1,1.0000)" fill="none" stroke="#111111" stroke-width="2.2" stroke-linejoin="miter" stroke-miterlimit="6"/>
<path d="M0.7,3.5 C2.8,1.9 5.6,1.05 8.7,1.05 C12.9,1.05 15.7,3.3 15.7,6.5 C15.7,9.9 13.2,12.2 9.6,12.2 L6.3,12.2 M9.6,12.2 C13.9,12.2 16.9,14.9 16.9,18.5 C16.9,22.2 13.5,24.75 8.9,24.75 C5.6,24.75 2.6,23.8 0.5,22.0" transform="translate(558.30,1097.30) scale(1,1.0000)" fill="none" stroke="#111111" stroke-width="2.2" stroke-linejoin="miter" stroke-miterlimit="6"/>
<path d="M16.1,1.1 L3.2,1.1 L3.0,12.1 C4.7,10.9 6.7,10.4 8.8,10.4 C13.5,10.4 16.5,13.6 16.5,17.6 C16.5,21.7 13.2,24.7 8.8,24.7 C5.5,24.7 2.6,23.5 0.5,21.5" transform="translate(589.90,1097.30) scale(1,1.0000)" fill="none" stroke="#111111" stroke-width="2.2" stroke-linejoin="miter" stroke-miterlimit="6"/>
<path d="M582.90,1118.90 L585.70,1118.90 C585.50,1121.90 582.80,1125.50 581.50,1127.70 L580.30,1127.20 C581.10,1125.00 583.30,1121.90 582.90,1118.90 Z" fill="#111111"/>
<path d="M0.6,3.3 C2.4,1.7 5.0,1.0 7.6,1.0 C11.9,1.0 14.6,3.4 14.6,6.6 C14.6,9.8 12.5,11.6 9.5,13.2 C4.7,15.8 1.7,17.8 1.7,21.8 L1.7,24.7 L16.1,24.7" transform="translate(796.30,1097.30) scale(1,1.0000)" fill="none" stroke="#111111" stroke-width="2.2" stroke-linejoin="miter" stroke-miterlimit="6"/>
<path d="M10.9,0.6 L1.0,19.05 L18.6,19.05 M14.0,10.0 L14.0,25.8" transform="translate(815.30,1097.30) scale(1,1.0000)" fill="none" stroke="#111111" stroke-width="2.2" stroke-linejoin="miter" stroke-miterlimit="6"/>
<path d="M16.1,1.1 L3.2,1.1 L3.0,12.1 C4.7,10.9 6.7,10.4 8.8,10.4 C13.5,10.4 16.5,13.6 16.5,17.6 C16.5,21.7 13.2,24.7 8.8,24.7 C5.5,24.7 2.6,23.5 0.5,21.5" transform="translate(847.20,1097.30) scale(1,1.0000)" fill="none" stroke="#111111" stroke-width="2.2" stroke-linejoin="miter" stroke-miterlimit="6"/>
<path d="M841.60,1118.70 L844.40,1118.70 C844.20,1121.70 841.70,1125.40 840.40,1127.60 L839.20,1127.10 C840.00,1124.90 842.00,1121.70 841.60,1118.70 Z" fill="#111111"/>
</g>
<g id="texts">
<text x="231.37" y="126.70" font-size="46.80" font-weight="bold" fill="#ffffff" textLength="574.16" lengthAdjust="spacing" stroke="#ffffff" stroke-width="2.2" stroke-linejoin="round">РАЗМЕРНАЯ ТАБЛИЦА</text>
<text x="193.81" y="264.70" font-size="38.95" font-weight="bold" fill="#3f9dd8" textLength="535.18" lengthAdjust="spacingAndGlyphs" stroke="#3f9dd8" stroke-width="1.8" stroke-linejoin="round">МУСЛИНОВЫЙ КОСТЮМ</text>
<text x="334.79" y="316.00" font-size="42.02" font-weight="normal" fill="#3f9dd8" textLength="72.82" lengthAdjust="spacing" stroke="#ffffff" stroke-width="0.6">для</text>
<text transform="scale(1.03,1)" x="407.07" y="316.00" font-size="42.02" font-weight="normal" fill="#3f9dd8" textLength="161.95" lengthAdjust="spacing" stroke="#ffffff" stroke-width="0.6">девочек</text>
<text x="40.25" y="376.10" font-size="30.96" font-weight="bold" fill="#3f9dd8" textLength="120.03" lengthAdjust="spacingAndGlyphs" stroke="#3f9dd8" stroke-width="1.2" stroke-linejoin="round">КОФТА</text>
<text transform="scale(0.97,1)" x="44.16" y="415.45" font-size="32.18" font-weight="normal" fill="#111111" textLength="117.55" lengthAdjust="spacing" stroke="#111111" stroke-width="0.9" stroke-linejoin="round">размер</text>
<text transform="scale(0.92,1)" x="26.92" y="466.40" font-size="26.12" font-weight="normal" fill="#111111" textLength="201.20" lengthAdjust="spacing">длина изделия</text>
<text transform="scale(0.92,1)" x="28.41" y="496.20" font-size="26.12" font-weight="normal" fill="#111111" textLength="174.37" lengthAdjust="spacing">по спинке,см</text>
<text transform="scale(0.92,1)" x="26.92" y="549.50" font-size="26.12" font-weight="normal" fill="#111111" textLength="180.26" lengthAdjust="spacing">длина рукава</text>
<text transform="scale(0.92,1)" x="27.26" y="579.50" font-size="26.12" font-weight="normal" fill="#111111" textLength="169.54" lengthAdjust="spacing">с плечом, см</text>
<text transform="scale(0.92,1)" x="27.75" y="635.60" font-size="26.12" font-weight="normal" fill="#111111" textLength="155.19" lengthAdjust="spacing">полуобхват</text>
<text transform="scale(0.92,1)" x="27.75" y="665.60" font-size="26.12" font-weight="normal" fill="#111111" textLength="123.17" lengthAdjust="spacing">груди, см</text>
<text x="37.54" y="791.30" font-size="31.69" font-weight="bold" fill="#3f9dd8" textLength="126.31" lengthAdjust="spacingAndGlyphs" stroke="#3f9dd8" stroke-width="1.2" stroke-linejoin="round">БРЮКИ</text>
<text transform="scale(0.97,1)" x="44.68" y="830.45" font-size="32.18" font-weight="normal" fill="#111111" textLength="118.89" lengthAdjust="spacing" stroke="#111111" stroke-width="0.9" stroke-linejoin="round">размер</text>
<text transform="scale(0.92,1)" x="30.51" y="872.30" font-size="26.12" font-weight="normal" fill="#111111" textLength="123.42" lengthAdjust="spacing">длина по</text>
<text transform="scale(0.92,1)" x="30.91" y="901.80" font-size="26.12" font-weight="normal" fill="#111111" textLength="175.01" lengthAdjust="spacing">внутреннему</text>
<text transform="scale(0.92,1)" x="30.91" y="932.30" font-size="26.12" font-weight="normal" fill="#111111" textLength="100.67" lengthAdjust="spacing">шву, см</text>
<text transform="scale(0.92,1)" x="30.51" y="983.80" font-size="26.12" font-weight="normal" fill="#111111" textLength="123.42" lengthAdjust="spacing">длина по</text>
<text transform="scale(0.92,1)" x="30.91" y="1013.40" font-size="26.12" font-weight="normal" fill="#111111" textLength="137.62" lengthAdjust="spacing">внешнему</text>
<text transform="scale(0.92,1)" x="31.56" y="1042.70" font-size="26.12" font-weight="normal" fill="#111111" textLength="51.43" lengthAdjust="spacing">шву</text>
<text transform="scale(0.92,1)" x="116.67" y="1042.70" font-size="26.12" font-weight="normal" fill="#111111" textLength="109.15" lengthAdjust="spacing">пояс, см</text>
<text transform="scale(0.92,1)" x="30.91" y="1096.30" font-size="26.12" font-weight="normal" fill="#111111" textLength="104.96" lengthAdjust="spacing">ширина</text>
<text transform="scale(0.92,1)" x="30.43" y="1126.30" font-size="26.12" font-weight="normal" fill="#111111" textLength="174.85" lengthAdjust="spacing">брючины, см</text>
</g>
</svg>
</body></html>
